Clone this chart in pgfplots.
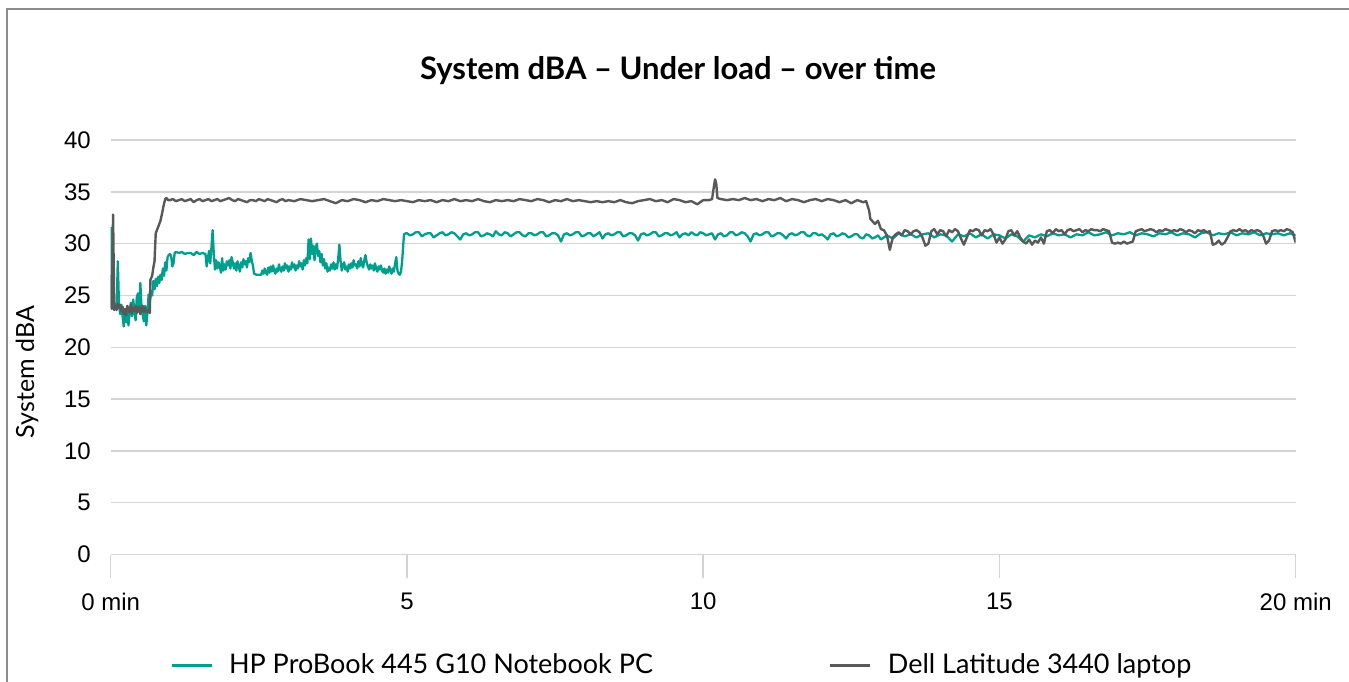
\documentclass[border=0pt]{standalone}
\usepackage{fontspec}
\setmainfont{Liberation Sans}
\newfontfamily\lato{Lato}
\usepackage{pgfplots}
\pgfplotsset{compat=1.18}
\definecolor{hpteal}{RGB}{0,158,140}
\definecolor{dellgray}{RGB}{89,89,89}
\definecolor{gridgray}{RGB}{212,212,212}
\definecolor{framegray}{RGB}{140,140,140}
\begin{document}
\begin{tikzpicture}
\useasboundingbox (0pt,0pt) rectangle (674.5pt,-340.5pt);
\draw[framegray, line width=0.8pt] (3.6pt,-360pt) -- (3.6pt,-4.6pt) -- (700pt,-4.6pt);
\node[font=\lato\bfseries\fontsize{15.5}{18}\selectfont] at (339pt,-35.5pt) {System dBA – Under load – over time};
\node[rotate=90, font=\lato\fontsize{12.5}{15}\selectfont] at (13.5pt,-186pt) {System dBA};
\begin{axis}[
  at={(55.35pt,-277.25pt)}, anchor=south west,
  scale only axis, width=592.5pt, height=207.25pt,
  xmin=0, xmax=20, ymin=0, ymax=40,
  axis line style={draw=none},
  ymajorgrids, grid style={gridgray, line width=0.75pt},
  ytick={0,5,...,40}, ytick style={draw=none},
  xtick={0,5,10,15,20}, xticklabels={0 min,5,10,15,20 min},
  xtick pos=left, tick align=outside, major tick length=11.5pt,
  xtick style={gridgray, line width=0.75pt},
  /pgf/number format/assume math mode=true,
  ticklabel style={font=\fontsize{12}{14}\selectfont},
  yticklabel style={anchor=east, inner sep=0pt, xshift=1.7pt},
  xticklabel style={anchor=center, inner sep=0pt, yshift=-12pt},
  legend columns=2,
  legend style={at={(0,0)}, anchor=west, xshift=29.65pt, yshift=-55.5pt, draw=none, inner sep=0pt, outer sep=0pt,
    font=\lato\fontsize{13.5}{16}\selectfont,
    nodes={inner sep=0pt, anchor=west},
    /tikz/every odd column/.append style={column sep=8pt},
    /tikz/every even column/.append style={column sep=88pt}},
  legend image code/.code={\draw[#1, line width=1.5pt] (0pt,0pt) -- (20pt,0pt);},
]
\addplot[hpteal, line width=1.15pt, line join=round] coordinates {
(0,31.6)(0.02,23.8)(0.04,24.5)(0.06,23.6)(0.08,24.2)(0.1,23.9)(0.12,28.3)(0.14,24.0)(0.16,23.2)(0.18,24.1)(0.2,23.0)(0.22,22.0)(0.24,23.5)(0.26,22.4)(0.28,23.8)(0.3,22.1)(0.32,23.4)(0.34,24.3)(0.36,23.0)(0.38,24.6)(0.4,23.5)(0.42,22.6)(0.44,24.8)(0.46,25.2)(0.48,23.4)(0.5,26.2)(0.52,23.9)(0.54,23.1)(0.56,22.5)(0.58,24.0)(0.6,22.1)(0.62,23.3)(0.64,25.1)(0.66,24.3)(0.68,25.4)
(0.7,25.0)(0.72,26.4)(0.74,25.6)(0.76,26.6)(0.78,25.9)(0.8,26.8)(0.82,26.2)(0.84,27.0)(0.86,26.5)(0.88,27.6)(0.9,26.9)(0.92,28.2)(0.94,27.4)(0.96,28.7)(0.98,28.9)(1.0,29.0)(1.02,28.8)(1.04,27.8)(1.06,28.1)(1.08,29.1)(1.1,29.2)(1.15,29.1)(1.2,29.2)(1.25,29.0)(1.3,29.1)(1.35,29.1)(1.4,28.9)(1.45,29.2)(1.5,29.0)(1.55,29.1)(1.6,29.0)(1.62,27.8)(1.64,28.6)(1.66,29.3)(1.68,28.1)(1.7,29.6)(1.72,31.3)(1.74,29.0)
(1.76,27.5)(1.78,28.4)(1.8,27.6)(1.82,28.2)(1.84,27.9)(1.86,27.2)(1.88,28.6)(1.9,27.4)(1.92,28.0)(1.94,27.5)(1.96,28.3)(1.98,27.9)(2.0,28.4)(2.02,27.6)(2.04,28.7)(2.06,28.2)(2.08,27.6)(2.1,28.1)(2.12,27.4)(2.14,28.3)(2.16,27.8)(2.18,27.3)(2.2,28.2)(2.22,27.7)(2.24,28.5)(2.26,28.0)(2.28,28.3)(2.3,27.7)(2.32,28.6)(2.34,28.2)(2.36,29.1)(2.38,28.4)(2.4,27.9)(2.42,27.1)(2.46,27.0)(2.5,27.0)(2.54,27.0)
(2.56,27.4)(2.58,27.1)(2.6,27.6)(2.62,27.2)(2.64,27.0)(2.66,27.7)(2.68,27.2)(2.7,27.8)(2.72,27.3)(2.74,27.9)(2.76,27.4)(2.78,27.1)(2.8,27.6)(2.82,27.3)(2.84,28.0)(2.86,27.5)(2.88,27.3)(2.9,27.8)(2.92,27.4)(2.94,28.1)(2.96,27.6)(2.98,27.9)(3.0,27.3)(3.02,27.8)(3.04,27.5)(3.06,28.2)(3.08,27.7)(3.1,28.0)(3.12,27.4)(3.14,27.9)(3.16,27.6)(3.18,28.3)(3.2,27.8)(3.22,28.1)(3.24,27.5)(3.26,28.4)(3.28,27.9)(3.3,28.6)(3.32,28.1)
(3.34,30.4)(3.36,28.5)(3.38,30.5)(3.4,29.0)(3.42,29.8)(3.44,28.4)(3.46,29.6)(3.48,30.0)(3.5,28.8)(3.52,29.3)(3.54,28.2)(3.56,29.0)(3.58,27.9)(3.6,28.5)(3.62,27.6)(3.64,28.1)(3.66,27.3)(3.68,27.7)(3.7,27.4)(3.72,28.0)(3.74,27.6)(3.76,28.2)(3.78,27.5)(3.8,28.0)(3.82,27.6)(3.84,28.6)(3.86,29.9)(3.88,28.3)(3.9,27.4)(3.92,27.9)(3.94,28.2)(3.96,27.5)(3.98,27.8)
(4.0,27.3)(4.02,28.0)(4.04,27.6)(4.06,28.1)(4.08,27.7)(4.1,28.4)(4.12,27.9)(4.14,28.0)(4.16,27.6)(4.18,28.3)(4.2,27.8)(4.22,28.6)(4.24,28.0)(4.26,27.7)(4.28,28.4)(4.3,28.9)(4.32,28.2)(4.34,27.8)(4.36,27.5)(4.38,28.0)(4.4,27.6)(4.42,27.9)(4.44,27.4)(4.46,28.1)(4.48,27.6)(4.5,27.3)(4.52,27.8)(4.54,27.5)(4.56,27.9)(4.58,27.4)(4.6,27.2)(4.62,27.6)(4.64,27.1)(4.66,27.5)(4.68,27.2)(4.7,27.8)(4.72,27.4)(4.74,27.1)(4.76,27.6)(4.78,27.3)(4.8,28.1)(4.82,28.7)(4.84,27.4)(4.86,27.1)(4.88,27.0)(4.9,27.3)(4.92,28.4)(4.95,30.9)(4.98,31.0)
(5.0,31.0)(5.05,30.8)(5.1,30.9)(5.15,31.1)(5.2,31.1)(5.25,30.7)(5.3,30.9)(5.35,31.0)(5.4,31.0)(5.45,30.6)(5.5,30.8)(5.55,31.0)(5.6,31.1)(5.65,30.8)(5.7,30.9)(5.75,31.1)(5.8,31.0)(5.85,30.7)(5.9,30.4)(5.95,30.9)(6.0,31.0)(6.05,30.8)(6.1,30.9)(6.15,31.1)(6.2,31.1)(6.25,30.7)(6.3,30.8)(6.35,31.0)(6.4,30.9)(6.45,30.7)(6.5,31.2)(6.55,30.9)(6.6,30.8)(6.65,31.1)(6.7,31.0)(6.75,30.7)(6.8,30.9)(6.85,31.1)(6.9,31.1)(6.95,30.8)
(7.0,30.7)(7.05,31.0)(7.1,31.0)(7.15,30.8)(7.2,30.9)(7.25,31.1)(7.3,31.1)(7.35,30.7)(7.4,30.8)(7.45,31.0)(7.5,31.0)(7.55,30.8)(7.6,30.2)(7.65,30.9)(7.7,31.0)(7.75,30.8)(7.8,30.9)(7.85,31.1)(7.9,31.1)(7.95,30.7)(8.0,30.8)(8.05,31.0)(8.1,31.0)(8.15,30.7)(8.2,30.9)(8.25,31.1)(8.3,30.5)(8.35,30.9)(8.4,31.0)(8.45,30.8)(8.5,30.9)(8.55,31.1)(8.6,31.1)(8.65,30.7)(8.7,30.8)(8.75,31.0)(8.8,31.0)(8.85,30.8)(8.9,30.3)(8.95,30.9)
(9.0,31.0)(9.05,30.8)(9.1,30.9)(9.15,31.1)(9.2,31.1)(9.25,30.7)(9.3,30.8)(9.35,31.0)(9.4,31.0)(9.45,30.8)(9.5,30.9)(9.55,31.1)(9.6,30.6)(9.65,30.9)(9.7,31.0)(9.75,30.8)(9.8,31.1)(9.85,30.9)(9.9,30.8)(9.95,31.1)(10.0,31.0)(10.05,30.8)(10.1,30.9)(10.15,31.0)(10.2,30.4)(10.25,30.9)(10.3,31.0)(10.35,30.7)(10.4,30.8)(10.45,31.1)(10.5,31.1)(10.55,30.8)(10.6,30.9)(10.65,31.1)(10.7,31.0)(10.75,30.7)(10.8,30.2)(10.85,30.9)(10.9,31.0)(10.95,30.8)
(11.0,30.9)(11.05,31.1)(11.1,31.1)(11.15,30.7)(11.2,30.8)(11.25,31.0)(11.3,31.0)(11.35,30.8)(11.4,30.5)(11.45,30.9)(11.5,31.0)(11.55,30.8)(11.6,30.9)(11.65,31.1)(11.7,31.1)(11.75,30.8)(11.8,30.7)(11.85,31.0)(11.9,31.0)(11.95,30.8)(12.0,30.9)(12.05,30.7)(12.1,30.4)(12.15,30.9)(12.2,31.0)(12.25,30.7)(12.3,30.8)(12.35,31.0)(12.4,30.9)(12.45,30.6)(12.5,30.7)(12.55,30.9)(12.6,30.9)(12.65,30.6)(12.7,30.5)(12.75,30.9)(12.8,30.8)(12.85,30.5)(12.9,30.6)(12.95,30.8)
(13.0,30.4)(13.1,30.8)(13.2,30.5)(13.3,31.0)(13.4,30.7)(13.5,30.9)(13.6,30.6)(13.7,30.9)(13.8,31.0)(13.9,30.6)(14.0,30.9)(14.1,30.8)(14.2,30.2)(14.3,30.9)(14.4,30.7)(14.5,31.0)(14.6,30.6)(14.7,30.9)(14.8,30.5)(14.9,30.9)(15.0,30.8)(15.1,30.5)(15.2,30.9)(15.3,30.7)(15.4,30.2)(15.5,30.8)(15.6,30.6)(15.7,30.9)(15.8,30.7)(15.9,31.0)(16.0,30.8)(16.1,30.9)(16.2,30.6)(16.3,30.9)(16.4,30.8)(16.5,31.1)(16.6,30.8)(16.7,30.9)(16.8,31.1)(16.9,30.8)
(17.0,31.0)(17.1,30.9)(17.2,31.1)(17.3,30.8)(17.4,31.0)(17.5,30.9)(17.6,30.7)(17.7,31.0)(17.8,30.9)(17.9,31.1)(18.0,30.8)(18.1,31.0)(18.2,30.9)(18.3,30.6)(18.4,31.0)(18.5,31.1)(18.6,30.8)(18.7,31.0)(18.8,30.9)(18.9,31.1)(19.0,30.8)(19.1,31.0)(19.2,30.9)(19.3,31.1)(19.4,30.8)(19.5,31.0)(19.6,30.9)(19.7,31.0)(19.8,30.8)(19.9,31.0)(20.0,30.8)
};
\addlegendentry{HP ProBook 445 G10 Notebook PC}
\addplot[dellgray, line width=1.2pt, line join=round] coordinates {
(0,27.0)(0.02,23.7)(0.04,32.8)(0.06,23.6)(0.08,24.0)(0.1,23.6)(0.12,24.2)(0.14,23.8)(0.16,24.1)(0.18,23.5)(0.2,23.9)(0.22,23.2)(0.24,23.7)(0.26,23.1)(0.28,24.0)(0.3,23.6)(0.32,23.4)(0.34,24.1)(0.36,23.3)(0.38,23.8)(0.4,23.5)(0.42,24.0)(0.44,23.3)(0.46,23.7)(0.48,23.9)(0.5,23.2)(0.52,23.6)(0.54,24.0)(0.56,23.4)(0.58,23.8)(0.6,23.5)(0.62,23.4)(0.64,23.6)(0.66,23.3)
(0.67,26.5)(0.7,26.9)(0.72,27.7)(0.74,28.3)(0.76,31.0)(0.8,31.6)(0.84,32.2)(0.87,33.0)(0.89,33.6)(0.92,34.3)(0.94,34.4)(0.97,34.2)
(1.0,34.2)(1.05,34.3)(1.1,34.1)(1.15,34.2)(1.2,34.3)(1.25,34.1)(1.3,34.2)(1.35,34.3)(1.4,34.0)(1.45,34.2)(1.5,34.3)(1.55,34.1)(1.6,34.2)(1.65,34.3)(1.7,34.1)(1.75,34.2)(1.8,34.3)(1.85,34.1)(1.9,34.2)(1.95,34.3)(2.0,34.4)(2.05,34.2)(2.1,34.1)(2.15,34.3)(2.2,34.2)(2.25,34.1)(2.3,34.0)(2.35,34.2)(2.4,34.2)(2.45,34.1)(2.5,34.3)(2.55,34.2)(2.6,34.1)(2.65,34.3)(2.7,34.2)(2.75,34.1)(2.8,34.0)(2.85,34.2)(2.9,34.3)(2.95,34.1)
(3.0,34.2)(3.1,34.1)(3.2,34.3)(3.3,34.2)(3.4,34.1)(3.5,34.2)(3.6,34.3)(3.7,34.1)(3.8,33.9)(3.9,34.2)(4.0,34.1)(4.1,34.3)(4.2,34.2)(4.3,34.0)(4.4,34.2)(4.5,34.1)(4.6,34.3)(4.7,34.2)(4.8,34.1)(4.9,34.2)
(5.0,34.1)(5.1,34.0)(5.2,34.2)(5.3,34.1)(5.4,34.2)(5.5,34.0)(5.6,34.2)(5.7,34.1)(5.8,34.3)(5.9,34.1)(6.0,34.2)(6.1,34.1)(6.2,34.3)(6.3,34.1)(6.4,34.0)(6.5,34.2)(6.6,34.1)(6.7,34.2)(6.8,34.1)(6.9,34.3)(7.0,34.2)(7.1,34.1)(7.2,34.3)(7.3,34.2)(7.4,34.0)(7.5,34.2)(7.6,34.1)(7.7,34.3)(7.8,34.1)(7.9,34.2)
(8.0,34.1)(8.1,34.0)(8.2,34.1)(8.3,34.0)(8.4,34.1)(8.5,34.0)(8.6,34.2)(8.7,34.0)(8.8,33.9)(8.9,34.1)(9.0,34.2)(9.1,34.3)(9.2,34.1)(9.3,34.2)(9.4,34.0)(9.5,34.3)(9.6,34.2)(9.7,34.0)(9.8,34.1)(9.9,33.8)(10.0,34.2)(10.1,34.2)(10.15,34.3)(10.18,35.5)(10.2,36.2)(10.22,35.8)(10.24,34.4)(10.3,34.3)(10.4,34.2)(10.5,34.3)(10.6,34.2)(10.7,34.4)(10.8,34.2)(10.9,34.3)
(11.0,34.1)(11.1,34.3)(11.2,34.2)(11.3,34.4)(11.4,34.1)(11.5,34.3)(11.6,34.2)(11.7,34.0)(11.8,34.2)(11.9,34.3)(12.0,34.1)(12.1,34.3)(12.2,34.2)(12.3,34.0)(12.4,34.2)(12.5,33.9)(12.6,34.2)(12.7,34.0)(12.75,34.1)(12.8,33.2)(12.82,32.4)(12.85,32.2)(12.9,31.9)(12.95,32.2)
(13.0,31.4)(13.05,31.3)(13.1,30.8)(13.15,29.4)(13.2,30.6)(13.25,30.9)(13.3,31.1)(13.35,30.8)(13.4,31.3)(13.45,31.2)(13.5,30.9)(13.55,31.2)(13.6,31.3)(13.65,31.1)(13.7,30.6)(13.75,29.8)(13.8,30.0)(13.85,31.2)(13.9,31.4)(13.95,30.9)(14.0,31.3)(14.05,31.2)(14.1,30.7)(14.15,31.3)(14.2,31.1)(14.25,31.4)(14.3,31.2)(14.35,30.5)(14.4,29.9)(14.45,30.6)(14.5,31.3)(14.55,31.2)(14.6,31.4)(14.65,31.3)(14.7,30.8)(14.75,31.3)(14.8,31.2)(14.85,31.4)(14.9,30.9)(14.95,30.1)
(15.0,30.6)(15.05,30.0)(15.1,30.4)(15.15,31.2)(15.2,31.3)(15.25,30.8)(15.3,31.2)(15.35,30.6)(15.4,30.2)(15.45,30.0)(15.5,30.4)(15.55,29.9)(15.6,30.3)(15.65,30.1)(15.7,30.6)(15.75,30.0)(15.8,31.2)(15.85,31.3)(15.9,31.0)(15.95,31.4)(16.0,31.2)(16.05,31.3)(16.1,30.9)(16.15,31.3)(16.2,31.4)(16.25,31.2)(16.3,31.3)(16.35,31.4)(16.4,31.1)(16.45,31.3)(16.5,31.2)(16.55,31.4)(16.6,31.3)(16.65,31.3)(16.7,31.2)(16.75,31.4)(16.8,31.3)(16.85,31.2)
(16.9,30.1)(16.95,30.0)(17.0,30.1)(17.05,30.0)(17.1,30.2)(17.15,30.0)(17.2,30.1)(17.25,30.2)(17.3,31.2)(17.35,31.3)(17.4,31.4)(17.45,31.2)(17.5,31.3)(17.55,31.4)(17.6,31.3)(17.65,31.1)(17.7,31.3)(17.75,31.2)(17.8,31.4)(17.85,31.3)(17.9,31.2)(17.95,31.3)(18.0,31.2)(18.05,31.4)(18.1,31.3)(18.15,31.1)(18.2,31.3)(18.25,31.2)(18.3,31.0)(18.35,31.3)(18.4,31.2)(18.45,31.3)(18.5,31.1)(18.55,31.2)
(18.6,29.9)(18.65,30.0)(18.7,30.3)(18.75,29.9)(18.8,30.1)(18.85,30.6)(18.9,31.2)(18.95,31.3)(19.0,31.2)(19.05,31.4)(19.1,31.2)(19.15,31.3)(19.2,31.1)(19.25,31.3)(19.3,31.2)(19.35,31.3)(19.4,31.2)(19.45,30.8)(19.5,30.0)(19.55,30.3)(19.6,31.2)(19.65,31.3)(19.7,31.2)(19.75,31.3)(19.8,31.2)(19.85,31.4)(19.9,31.3)(19.95,31.1)(20.0,30.1)
};
\addlegendentry{Dell Latitude 3440 laptop}
\end{axis}
\end{tikzpicture}
\end{document}
